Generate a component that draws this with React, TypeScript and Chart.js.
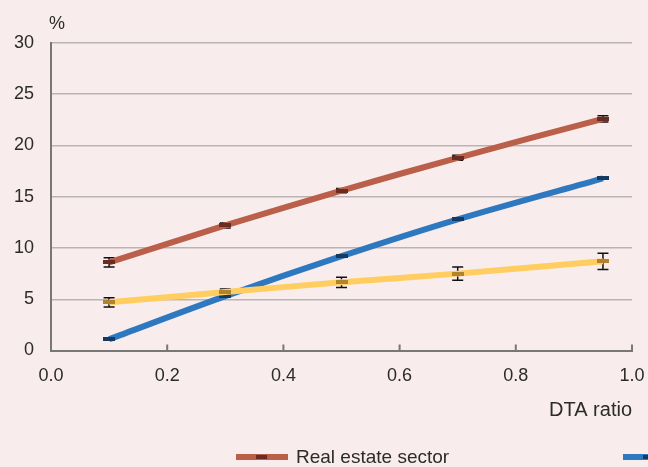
import React, { useEffect, useRef } from "react";
import { Chart, registerables } from "chart.js";

Chart.register(...registerables);

const xValues = [0.1, 0.3, 0.5, 0.7, 0.95];
const seriesNames = ["Real estate sector", "Non-real estate sector", "All sectors"];
const realEstate = [8.6, 12.2, 15.6, 18.8, 22.6];
const realEstateErr = [0.45, 0.25, 0.2, 0.25, 0.3];
const nonRealEstate = [1.1, 5.3, 9.2, 12.8, 16.8];
const nonRealEstateErr = [0.1, 0.1, 0.1, 0.1, 0.1];
const allSectors = [4.7, 5.7, 6.65, 7.5, 8.7];
const allSectorsErr = [0.45, 0.3, 0.5, 0.65, 0.8];
const xTicks = [0, 0.2, 0.4, 0.6, 0.8, 1.0];
const yTicks = [0, 5, 10, 15, 20, 25, 30];

const FONT = "'Liberation Sans', Arial, Helvetica, sans-serif";
const TEXT = "#2b2b2b";
const BG = "#f8ecec";
const AXIS = "#777777";
const GRID = "#b9b3b3";

const lineColors = ["#b95f4a", "#2e78c0", "#ffcd60"];
const markerColors = ["#6b2a22", "#143a62", "#b3832b"];

function makeMarker(color: string) {
  const c = document.createElement("canvas");
  c.width = 12;
  c.height = 4;
  const ctx = c.getContext("2d")!;
  ctx.fillStyle = color;
  ctx.fillRect(0, 0, 12, 4);
  return c;
}

export default function App() {
  const ref = useRef<HTMLCanvasElement | null>(null);

  useEffect(() => {
    if (!ref.current) return;
    const values = [realEstate, nonRealEstate, allSectors];
    const errors = [realEstateErr, nonRealEstateErr, allSectorsErr];
    const orders = [1, 2, 0];

    const datasets = values.map((vals, i) => ({
      label: seriesNames[i],
      data: xValues.map((x, j) => ({ x, y: vals[j] })),
      borderColor: lineColors[i],
      backgroundColor: lineColors[i],
      borderWidth: 6,
      tension: 0.3,
      pointStyle: makeMarker(markerColors[i]) as any,
      pointRadius: 6,
      order: orders[i],
      fill: false,
    }));

    const bgPlugin = {
      id: "bg",
      beforeDraw(chart: any) {
        const { ctx, width, height } = chart;
        ctx.save();
        ctx.fillStyle = BG;
        ctx.fillRect(0, 0, width, height);
        ctx.restore();
      },
    };

    const errorPlugin = {
      id: "errbars",
      beforeDatasetsDraw(chart: any) {
        const ctx = chart.ctx;
        const xs = chart.scales.x;
        const ys = chart.scales.y;
        ctx.save();
        ctx.strokeStyle = "#111";
        ctx.lineWidth = 1.5;
        values.forEach((vals, i) => {
          vals.forEach((v, j) => {
            const px = xs.getPixelForValue(xValues[j]);
            const top = ys.getPixelForValue(v + errors[i][j]);
            const bot = ys.getPixelForValue(v - errors[i][j]);
            ctx.beginPath();
            ctx.moveTo(px, top);
            ctx.lineTo(px, bot);
            ctx.moveTo(px - 5.5, top);
            ctx.lineTo(px + 5.5, top);
            ctx.moveTo(px - 5.5, bot);
            ctx.lineTo(px + 5.5, bot);
            ctx.stroke();
          });
        });
        ctx.restore();
      },
    };

    const decoPlugin = {
      id: "deco",
      afterDraw(chart: any) {
        const ctx = chart.ctx;
        const xs = chart.scales.x;
        const area = chart.chartArea;
        ctx.save();
        ctx.strokeStyle = AXIS;
        ctx.lineWidth = 2;
        xTicks.slice(1).forEach((t) => {
          const px = xs.getPixelForValue(t);
          ctx.beginPath();
          ctx.moveTo(px, area.bottom);
          ctx.lineTo(px, area.bottom - 6);
          ctx.stroke();
        });
        ctx.fillStyle = TEXT;
        ctx.font = `18px ${FONT}`;
        ctx.textBaseline = "middle";
        ctx.textAlign = "left";
        ctx.fillText("%", area.left - 2, 24);
        const startX = 236;
        const spacing = 387;
        const ly = 457;
        seriesNames.forEach((name, i) => {
          const x0 = startX + i * spacing;
          ctx.strokeStyle = lineColors[i];
          ctx.lineWidth = 6;
          ctx.beginPath();
          ctx.moveTo(x0, ly);
          ctx.lineTo(x0 + 52, ly);
          ctx.stroke();
          ctx.fillStyle = markerColors[i];
          ctx.fillRect(x0 + 20, ly - 2, 11, 4);
          ctx.fillStyle = TEXT;
          ctx.font = `19px ${FONT}`;
          ctx.textAlign = "left";
          ctx.textBaseline = "middle";
          ctx.fillText(name, x0 + 60, ly + 1);
        });
        ctx.restore();
      },
    };

    const chart = new Chart(ref.current, {
      type: "line",
      data: { datasets: datasets as any },
      options: {
        animation: false,
        responsive: false,
        maintainAspectRatio: false,
        layout: { padding: { top: 43, right: 16, bottom: 44.5, left: 0 } },
        plugins: {
          legend: { display: false },
          tooltip: { enabled: false },
        },
        scales: {
          x: {
            type: "linear",
            min: 0,
            max: 1,
            afterBuildTicks: (s: any) => {
              s.ticks = xTicks.map((v) => ({ value: v }));
            },
            afterFit: (s: any) => {
              s.height = 72;
              s.paddingLeft = 0;
              s.paddingRight = 0;
            },
            grid: { display: false, drawTicks: false },
            border: { display: true, color: AXIS, width: 2 },
            ticks: {
              padding: 15,
              color: TEXT,
              font: { family: FONT, size: 18 },
              maxRotation: 0,
              callback: (v: any) => Number(v).toFixed(1),
            },
            title: {
              display: true,
              text: "DTA ratio",
              align: "end",
              color: TEXT,
              font: { family: FONT, size: 20 },
              padding: 0,
            },
          },
          y: {
            type: "linear",
            min: 0,
            max: 30,
            afterBuildTicks: (s: any) => {
              s.ticks = yTicks.map((v) => ({ value: v }));
            },
            afterFit: (s: any) => {
              s.width = 51;
              s.paddingTop = 0;
              s.paddingBottom = 0;
            },
            grid: { color: GRID, lineWidth: 1.5, drawTicks: false },
            border: { display: true, color: AXIS, width: 2 },
            ticks: {
              padding: 17,
              color: TEXT,
              font: { family: FONT, size: 18 },
            },
          },
        },
      },
      plugins: [bgPlugin, errorPlugin, decoPlugin],
    });
    return () => chart.destroy();
  }, []);

  return (
    <div
      style={{
        position: "fixed",
        left: 0,
        top: 0,
        width: 648,
        height: 467,
        background: BG,
      }}
    >
      <canvas ref={ref} width={648} height={467} style={{ display: "block" }} />
    </div>
  );
}
